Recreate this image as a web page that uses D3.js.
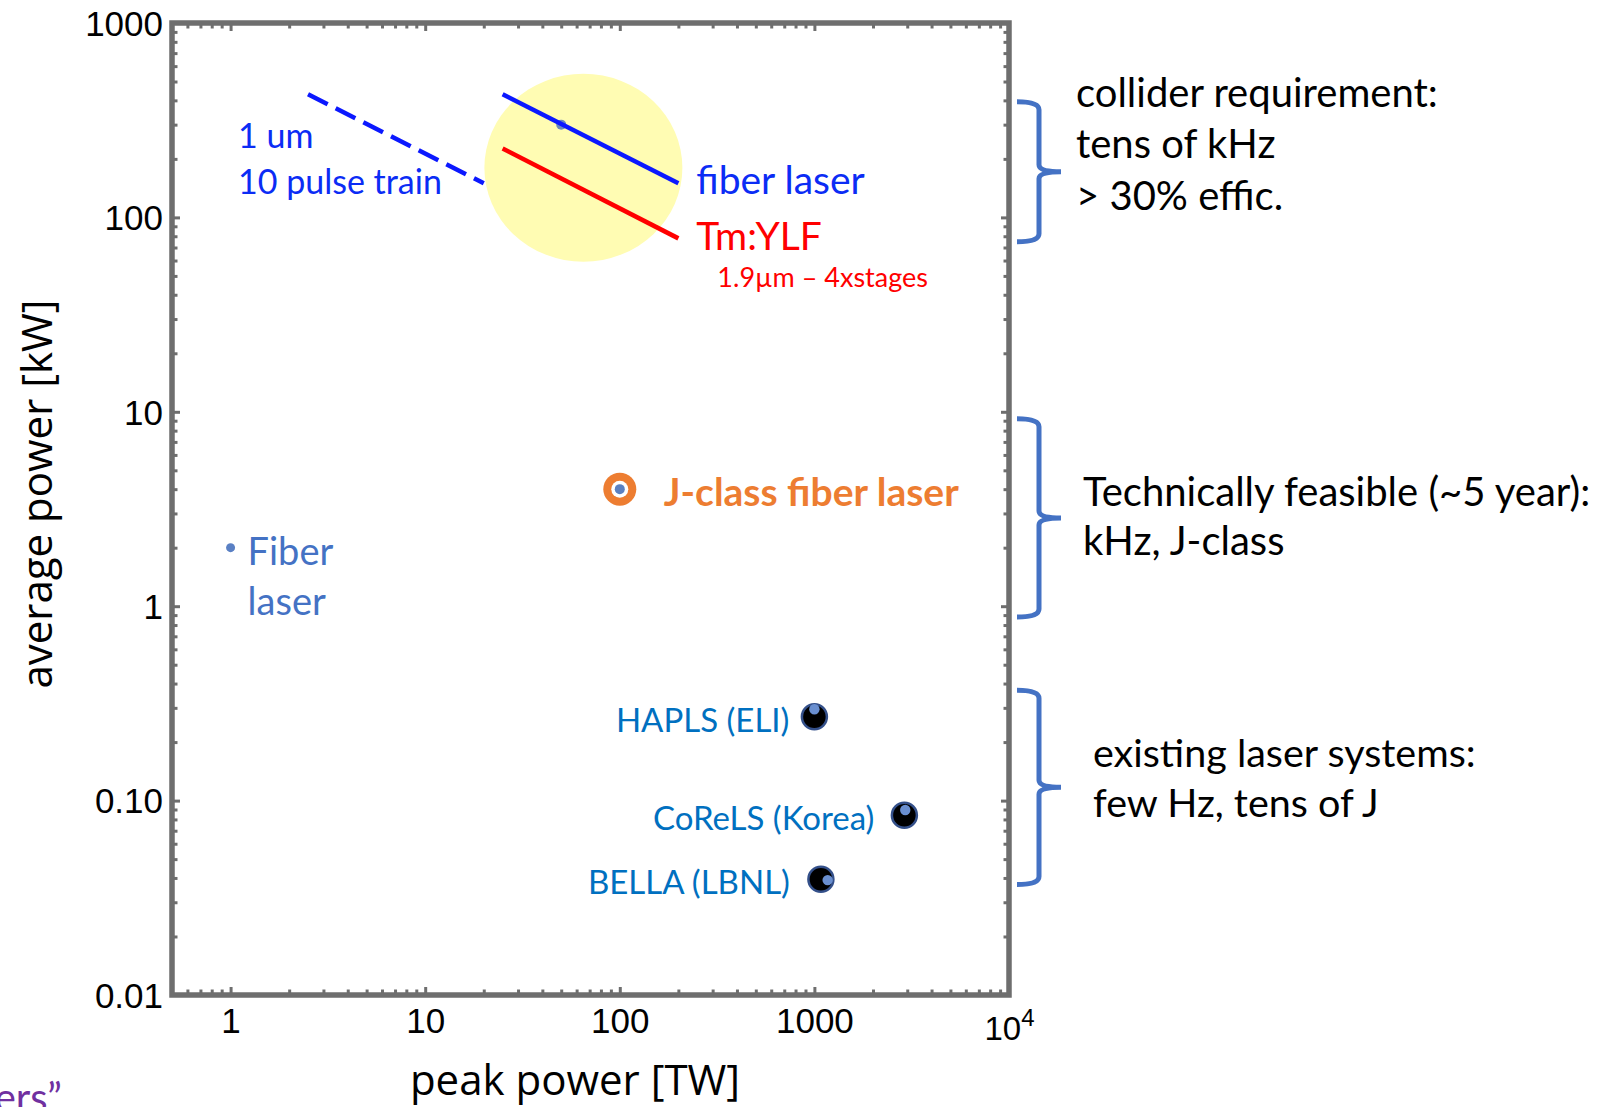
<!DOCTYPE html>
<html>
<head>
<meta charset="utf-8">
<script src="https://cdn.jsdelivr.net/npm/d3@7"></script>
<style>
  body { margin: 0; background: #fff; }
</style>
</head>
<body>
<svg id="chart"></svg>
<script>
// axis ticks
const xTickValues = [1, 10, 100, 1000, 10000]
const xTickLabels = ['1', '10', '100', '1000', '10^4']
const yTickValues = [0.01, 0.1, 1, 10, 100, 1000]
const yTickLabels = ['0.01', '0.10', '1', '10', '100', '1000']

// scaling lines: peak power [TW] and average power [kW] at both ends
const lineNames = ['1 um pulse train', 'fiber laser', 'Tm:YLF']
const linePeak = [[2.5, 20], [25, 200], [25, 200]]
const lineAvg = [[430, 150], [430, 150], [226, 78]]

// yellow target region (centre)
const targetPeak = 65
const targetAvg = 180

// single points [peak, avg]
const fiberPoint = [1, 2]
const lineDot = [50, 300]
const jClassPoint = [100, 4]

// existing laser systems
const systemNames = ['HAPLS (ELI)', 'CoReLS (Korea)', 'BELLA (LBNL)']
const systemPeak = [1000, 2900, 1080]
const systemAvg = [0.27, 0.084, 0.0394]
const systemDataPeak = [1000, 2930, 1170]
const systemDataAvg = [0.295, 0.0895, 0.039]

// braces on the right side, range in kW
const braceLow = [75, 0.88, 0.037]
const braceHigh = [394, 9.2, 0.37]
const braceText = [
    ['collider requirement:', 'tens of kHz', '> 30% effic.'],
    ['Technically feasible (~5 year):', 'kHz, J-class'],
    ['existing laser systems:', 'few Hz, tens of J']
]

var W = 1610, H = 1107
var plot = { left: 172, right: 1009, top: 23, bottom: 995 }
var frameColor = '#6e6e6e'

var svg = d3.select('#chart')
    .attr('width', W)
    .attr('height', H)

var x = d3.scaleLog().domain([0.5, 10000]).range([plot.left, plot.right])
var y = d3.scaleLog().domain([0.01, 1000]).range([plot.bottom, plot.top])

// 2..9 multiples inside the domain
function minorTicks(domain) {
    var out = []
    var lo = Math.floor(Math.log10(domain[0])), hi = Math.ceil(Math.log10(domain[1]))
    for (var p = lo; p < hi; p++) {
        for (var m = 2; m <= 9; m++) {
            var v = m * Math.pow(10, p)
            if (v > domain[0] * 1.0001 && v < domain[1] * 0.9999) out.push(v)
        }
    }
    return out
}

// inward ticks on all four sides
function tickGroup(axis, transform) {
    var g = svg.append('g')
        .attr('transform', transform)
        .call(axis)
    g.select('.domain').remove()
    g.selectAll('line')
        .attr('stroke', frameColor)
        .attr('stroke-width', 3)
    return g
}

var sides = [
    [d3.axisBottom, x, 'translate(0,' + plot.bottom + ')'],
    [d3.axisTop, x, 'translate(0,' + plot.top + ')'],
    [d3.axisLeft, y, 'translate(' + plot.left + ',0)'],
    [d3.axisRight, y, 'translate(' + plot.right + ',0)']
]
sides.forEach(function (s) {
    var major = s[1] === x ? xTickValues : yTickValues
    tickGroup(s[0](s[1]).tickValues(major).tickSize(-8).tickFormat(''), s[2])
    tickGroup(s[0](s[1]).tickValues(minorTicks(s[1].domain())).tickSize(-5.5).tickFormat(''), s[2])
})

// frame
svg.append('rect')
    .attr('x', plot.left)
    .attr('y', plot.top)
    .attr('width', plot.right - plot.left)
    .attr('height', plot.bottom - plot.top)
    .attr('fill', 'none')
    .attr('stroke', frameColor)
    .attr('stroke-width', 5.5)

// tick labels
var xLab = svg.append('g')
    .attr('transform', 'translate(0,' + plot.bottom + ')')
    .call(d3.axisBottom(x).tickValues(xTickValues).tickSize(0).tickFormat(function (d, i) { return xTickLabels[i] }))
xLab.select('.domain').remove()
xLab.attr('font-family', 'Liberation Sans, Arial, sans-serif').attr('font-size', 35)
xLab.selectAll('.tick text').each(function (d, i) {
    var parts = xTickLabels[i].split('^')
    var t = d3.select(this).text(null).attr('y', 38).attr('dy', null).attr('fill', '#000')
    if (parts.length === 1) {
        t.text(parts[0])
    } else {
        t.attr('font-size', 33)
        t.append('tspan').attr('dy', 7).text(parts[0])
        t.append('tspan').attr('dy', -14).attr('font-size', 24).text(parts[1])
    }
})

var yLab = svg.append('g')
    .attr('transform', 'translate(' + plot.left + ',0)')
    .call(d3.axisLeft(y).tickValues(yTickValues).tickSize(0).tickPadding(9).tickFormat(function (d, i) { return yTickLabels[i] }))
yLab.select('.domain').remove()
yLab.attr('font-family', 'Liberation Sans, Arial, sans-serif').attr('font-size', 35)
yLab.selectAll('.tick text').attr('fill', '#000').attr('dy', '0.35em')

// axis titles
svg.append('text')
    .attr('x', 575)
    .attr('y', 1095)
    .attr('text-anchor', 'middle')
    .attr('font-family', 'Open Sans')
    .attr('font-size', 42)
    .text('peak power [TW]')

svg.append('text')
    .attr('transform', 'translate(52,494) rotate(-90)')
    .attr('text-anchor', 'middle')
    .attr('font-family', 'Open Sans')
    .attr('font-size', 42)
    .text('average power [kW]')

function label(px, py, str, color, size, weight) {
    return svg.append('text')
        .attr('x', px)
        .attr('y', py)
        .attr('font-family', 'Lato')
        .attr('font-size', size)
        .attr('font-weight', weight || 'normal')
        .attr('fill', color)
        .text(str)
}

var line = d3.line()
    .x(function (d) { return x(d[0]) })
    .y(function (d) { return y(d[1]) })

var lineColors = ['#0b18ff', '#0b18ff', '#ff0000']
var lineDash = ['22,9', null, null]

// dashed pulse train line sits under the circle
function drawLine(i) {
    svg.append('path')
        .datum([[linePeak[i][0], lineAvg[i][0]], [linePeak[i][1], lineAvg[i][1]]])
        .attr('fill', 'none')
        .attr('stroke', lineColors[i])
        .attr('stroke-width', 4.5)
        .attr('stroke-dasharray', lineDash[i])
        .attr('d', line)
}
drawLine(0)

svg.append('ellipse')
    .attr('cx', x(targetPeak))
    .attr('cy', y(targetAvg))
    .attr('rx', 99)
    .attr('ry', 94)
    .attr('fill', '#fffcb3')

svg.append('circle')
    .attr('cx', x(lineDot[0]))
    .attr('cy', y(lineDot[1]))
    .attr('r', 5)
    .attr('fill', '#6a88bf')

drawLine(1)
drawLine(2)

// line labels
label(238, 148, '1 um', '#0b2cf5', 34)
label(238, 194, '10 pulse train', '#0b2cf5', 34)
var fEnd = [x(linePeak[1][1]), y(lineAvg[1][1])]
label(fEnd[0] + 18, fEnd[1] + 11, 'fiber laser', '#0b2cf5', 39)
var tEnd = [x(linePeak[2][1]), y(lineAvg[2][1])]
label(tEnd[0] + 18, tEnd[1] + 12, 'Tm:YLF', '#ff0000', 39)
label(tEnd[0] + 39, tEnd[1] + 49, '1.9\u00b5m \u2013 4xstages', '#ff0000', 27)

// fiber laser point
svg.append('circle')
    .attr('cx', x(fiberPoint[0]))
    .attr('cy', y(fiberPoint[1]))
    .attr('r', 4.5)
    .attr('fill', '#5a80c4')
label(x(fiberPoint[0]) + 17, y(fiberPoint[1]) + 17, 'Fiber', '#4472c4', 38)
label(x(fiberPoint[0]) + 17, y(fiberPoint[1]) + 67, 'laser', '#4472c4', 38)

// J-class point
var jx = x(jClassPoint[0]), jy = y(jClassPoint[1])
svg.append('circle').attr('cx', jx).attr('cy', jy).attr('r', 16.5).attr('fill', '#ed7d31')
svg.append('circle').attr('cx', jx).attr('cy', jy).attr('r', 8.5).attr('fill', '#fff')
svg.append('circle').attr('cx', jx).attr('cy', jy).attr('r', 5).attr('fill', '#5b80c0')
label(jx + 44, jy + 17, 'J-class fiber laser', '#ed7d31', 39, 'bold')

// existing systems
var systemGap = [25, 30, 31]
systemNames.forEach(function (name, i) {
    var cx = x(systemPeak[i]), cy = y(systemAvg[i])
    svg.append('circle')
        .attr('cx', cx)
        .attr('cy', cy)
        .attr('r', 12.5)
        .attr('fill', '#000')
        .attr('stroke', '#34508a')
        .attr('stroke-width', 2.5)
    svg.append('circle')
        .attr('cx', x(systemDataPeak[i]))
        .attr('cy', y(systemDataAvg[i]))
        .attr('r', 5.2)
        .attr('fill', '#6a8fd0')
    label(cx - systemGap[i], cy + 15, name, '#0070c0', 33).attr('text-anchor', 'end')
})

// braces
var braceX = [1017, 1039, 1061]
var braceTextX = [1076, 1083, 1093]
var braceTextY = [106.7, 506, 766.7]
var braceLineH = [51.5, 49, 50]
var braceFont = [40, 40, 39.5]
braceText.forEach(function (lines, i) {
    var top = y(braceHigh[i]), bot = y(braceLow[i])
    var mid = (top + bot) / 2
    var p = d3.path()
    p.moveTo(braceX[0], top)
    p.quadraticCurveTo(braceX[1], top, braceX[1], top + 8)
    p.lineTo(braceX[1], mid - 7)
    p.quadraticCurveTo(braceX[1], mid, braceX[2], mid)
    p.moveTo(braceX[2], mid)
    p.quadraticCurveTo(braceX[1], mid, braceX[1], mid + 7)
    p.lineTo(braceX[1], bot - 8)
    p.quadraticCurveTo(braceX[1], bot, braceX[0], bot)
    svg.append('path')
        .attr('d', p.toString())
        .attr('fill', 'none')
        .attr('stroke', '#4472c4')
        .attr('stroke-width', 5)
    lines.forEach(function (s, k) {
        label(braceTextX[i], braceTextY[i] + k * braceLineH[i], s, '#000', braceFont[i])
    })
})

// cut-off text from the slide at the bottom left
label(62, 1112, 'ers\u201d', '#7030a0', 40).attr('text-anchor', 'end')
</script>
</body>
</html>
